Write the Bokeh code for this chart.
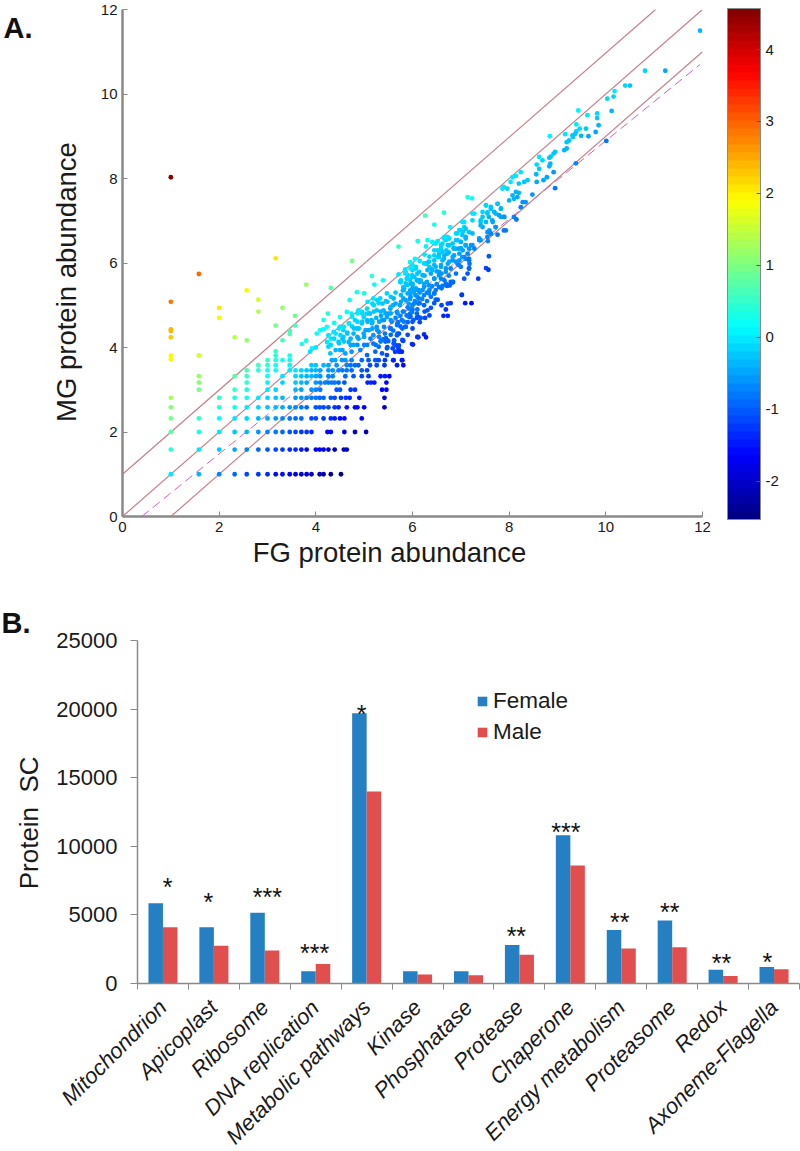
from math import sqrt, pi
from bokeh.plotting import figure
from bokeh.layouts import column
from bokeh.embed import file_html
from bokeh.resources import INLINE
from bokeh.models import (ColumnDataSource, LinearColorMapper, ColorBar, FixedTicker, Range1d)
from bokeh.core.properties import value

# ---------- Panel A data: spectral-count levels (discrete rows) ----------
mg_levels = [1.0, 1.585, 2.0, 2.32, 2.585, 2.81, 3.0, 3.17, 3.32, 3.46, 3.58, 3.70, 3.81]
fg_by_level = [
 [1,1.58,2,2.32,2.57,2.81,3,3.17,3.31,3.46,3.58,3.7,3.81,3.91,4.08,4.16,4.31,4.52],
 [1,1.58,2,2.32,2.57,2.81,3,3.17,3.31,3.46,3.58,3.7,3.81,4.0,4.08,4.16,4.26,4.39,4.58,4.64],
 [1,1.58,2,2.32,2.57,2.81,3,3.17,3.31,3.46,3.58,3.7,3.81,3.91,4.24,4.31,4.59,4.81,5.04],
 [1,1.58,2,2.32,2.57,2.81,3,3.17,3.31,3.46,3.58,3.7,3.91,4.0,4.16,4.31,4.39,4.5,4.59,4.95],
 [1,2,2.32,2.57,2.81,3,3.17,3.31,3.46,3.58,3.7,3.81,4.0,4.08,4.16,4.26,4.39,4.47,4.64,4.81,4.86,5.0,5.42],
 [1,2,2.32,2.57,2.81,3,3.17,3.31,3.58,3.7,3.81,3.91,4.0,4.08,4.16,4.31,4.39,4.52,4.62,4.7,4.9,5.42],
 [1.58,2.32,2.57,3,3.17,3.58,3.7,3.91,4.0,4.09,4.43,4.5,4.72,4.81,5.37,5.46],
 [1.58,2.57,3,3.31,3.58,3.7,3.81,4.0,4.09,4.19,4.26,4.33,4.39,4.47,4.59,5.07,5.14,5.21,5.46],
 [1.58,2.32,2.57,3,3.31,3.58,3.7,3.81,3.91,4.0,4.09,4.26,4.35,4.61,4.78,4.95,5.09,5.34,5.43,5.52],
 [2.57,2.81,3,3.17,3.46,3.58,3.7,3.81,3.91,4.0,4.09,4.26,4.35,4.47,4.55,4.64,4.74,4.95,5.06],
 [2.81,3,3.17,3.46,3.91,4.0,4.16,4.26,4.43,4.64,4.72,4.81,4.88,5.12,5.26,5.42,5.68,5.81],
 [3,3.17,3.31,3.46,4.33,4.4,4.54,4.61,4.74,4.95,5.09,5.23,5.3,5.43,5.61,5.78],
 [1,1.58,3.17,3.46],
]
# ---------- Panel A data: continuous part of the cloud ----------
fg_upper = [1,1.58,1.58,2.57,2,2.81,3.8,4.31,2,2.81,3.31,1,1,1,2.32,2.57,3.17,3.57,3.57,3.46,3.46,3.31,1,3.17,4.75,5.71,6.11,1,3.17,
 3.92,4,3.88,3.71,3.8,4.02,4.09,4.16,4.23,4.16,4.25,4.31,4.38,4.5,4.7,4.85,5,5.16,5.21,5.39,5.71,4.64,4.74,4.88,5.06,5.19,5.33,5.47,5.61,5.81,5.88,5.99,6.09,5.95,5.81,5.74,5.92,6.06,6.12,5.99,5.88,6.09,5.68,5.54,5.4,5.26,5.12,4.99,4.81,4.68,4.57,4.5,4.37,4.26,4.23,4.26,4.3,4.47,4.5,4.57,4.68,4.78,4.85,4.95,5.06,5.16,5.26,5.37,5.47,5.57,5.68,5.78,4.88,4.99,5.09,5.19,5.3,5.43,5.54,4.78,4.92,5.06,5.19,5.3,5.47,5.61,5.71,5.8,5.99,6.11,5.68,5.85,6.02,6.12,4.61,4.74,5.06,5.23,5.37,5.47,5.64,5.74,
 7.02,7.09,7.22,6.69,6.6,6.73,6.79,6.64,6.73,6.48,6.35,6.26,6.17,6.09,6.24,6.28,6.12,6.01,5.81,5.72,5.78,5.79,5.6,6.83,6.77,6.7,6.52,6.38,6.31,6.24,6,5.93,5.86,5.79,5.69,5.62,5.72,5.66,5.59,5.48,5.48,
 5.35,5.4,5.45,5.5,5.55,5.6,5.7,5.75,5.9,6,6.1,6.2,6.3,5.8,5.9,6,5.75,5.65,6.45,6.25,6.15,6,5.9,5.95,6.4,5.2,5.3,5.45,5.55,5.65,5.6,5.5,5.35,5.25,5.15,5.05,4.95,4.75,4.65,4.55,5.75,5.85,6,
 6.11,6.31,6.28,6.45,6.52,6.66,6.76,6.69,6.62,6.59,6.73,6.9,6.97,7.04,7.1,6.93,7,7.1,6.83,6.9,7.24,7.17,7.04,6.97,6.86,6.66,6.55,6.52,6.45,6.62,6.73,6.83,6.93,7.14,7.07,7,6.97,6.59,6.48,6.38,6.55,6.69,6.79,6.45,6.66,6.28,6.35,6.07,6,6.14,5.9,6.04,6.17,5.86,6,6.24,6.1,6.35,6.45,5.9,6.1,6.24,6.38,
 6.3,6.4,6.5,6.6,6.75,6.9,6.25,6.3,6.5,6.6,6.15,5.95,6,6.15,6.3,6.05,5.75,5.8,5.95,6.15,5.85,6.75,6.85,7,7.1,6.7,6.45,6.35,6.25,6.15,6.05,5.95,
 7.14,7.23,7.24,7.03,7.07,7.52,7.62,7.76,7.83,7.72,7.55,7.45,7.58,7.41,7.83,7.89,7.66,7.45,7.72,7.55,7.62,7.38,7.41,7.89,8.1,8.15,7.76,7.56,7.58,7.52,7.57,7.36,7.02,7.17,7.17,7.18,7.14,7.07,6.79,6.84,6.72,6.62,
 6.65,6.26,6.45,6.78,
 8.95,8.92,8.86,8.83,8.62,8.69,8.57,8.62,8.85,8.83,8.92,8.95,8.78,8.71,8.57,8.56,8.14,8.07,8.24,8.38,8.31,8.2,8.48,7.89,7.96,8.03,7.86,8.14,8.2,8.07,8,8.1,8.17,8.28,8.34,8.24,
 11.95,11.23,10.81,10.5,10.4,10.18,10.16,10.03,10.12,9.43,9.62,9.82,9.82,9.85,9.39,9.46,9.59,9.79,10.01,9.49,9.64,9.39,9.31,9.37,9.16,9.32,8.84,9.24,9.19,9.14,9.19,9.38]
mg_upper = [8.03,5.74,3.81,5.35,4.94,5.13,5.49,5.41,4.7,4.85,4.94,5.08,4.43,4.24,4.24,4.17,4.52,4.75,4.52,4.39,4.32,4.17,4.39,6.11,6.05,6.39,6.52,3.72,3.91,
 3.98,4,3.9,4.08,4.16,4.33,4.41,4.43,4.49,4.65,4.8,4.21,4.58,4.72,5.12,5.31,5.28,5.69,5.49,5.59,5.73,4.84,4.8,4.88,4.92,5.16,5.16,5.28,5.16,5.43,5.63,5.71,5.59,5.35,5.16,5,5.04,5.24,5.04,4.84,4.76,4.8,4.84,4.92,4.88,4.88,4.8,4.72,4.65,4.57,4.41,4.49,4.37,4.29,4.13,4.02,3.86,4.13,3.94,4.25,4.13,4.33,4.45,4.57,4.65,4.57,4.49,4.65,4.72,4.61,4.53,4.65,4.21,4.33,4.41,4.29,4.37,4.33,4.45,4.06,3.94,4.06,4.09,4.02,3.98,4.09,3.98,4.16,4.08,4.25,4.29,4.49,4.65,4.72,3.86,3.9,3.82,3.9,3.86,3.82,3.9,3.91,
 5.25,5.05,5.05,4.9,5,5.04,5.05,4.75,4.75,5.13,4.76,4.7,4.7,4.7,4.31,4.24,4.24,4.07,4.16,3.9,3.9,3.7,3.7,5.54,5.47,5.47,5.13,4.94,4.88,5,4.61,4.72,4.49,4.45,4.33,4.17,4.05,4.05,3.98,4.17,4.01,
 4.17,4.2,4.22,4.15,4.3,4.4,4.6,4.5,4.6,4.9,4.9,5.15,5.1,4.85,4.95,5,4.75,4.7,5.05,4.85,4.6,4.45,4.3,4.8,5.45,5,5.05,5.1,5.2,5.3,5,4.8,4.75,4.7,4.65,4.8,4.85,4.5,4.35,4.2,5.55,5.85,5.95,
 6.52,6.54,6.39,6.47,6.52,6.62,6.58,6.54,6.46,6.34,6.42,6.7,6.78,6.74,6.62,6.54,6.5,6.42,6.46,6.34,6.42,6.34,6.3,6.22,6.18,6.18,6.22,6.14,6.06,6.06,5.98,6.06,5.98,6.22,6.14,5.91,6.06,5.91,5.91,5.75,5.71,5.79,5.87,5.63,5.59,5.98,5.91,5.91,5.83,5.79,5.71,5.67,5.59,5.52,5.48,5.44,5.36,5.36,5.28,5.28,5.2,5.24,5.2,
 6,5.85,5.8,5.75,5.7,5.75,5.7,5.55,5.5,5.4,5.55,5.6,5.4,5.3,5.3,5.1,5.55,5.35,5.15,5.05,5.75,6.25,6.35,6.35,6.1,6.3,6.3,6.15,6.2,6.05,6.1,6.02,
 7.56,7.53,7.17,6.97,6.85,7.36,7.28,7.4,7.28,7.17,7.2,7.09,7.09,6.97,7.09,7.09,6.97,6.85,6.85,6.73,6.69,6.58,6.54,6.77,7.09,7.03,6.67,6.52,6.16,5.88,5.84,5.63,5.24,6.06,5.87,5.98,5.75,5.63,5.55,5.55,5.46,5.46,
 7.19,7.12,6.91,6.85,
 8.63,8.59,8.52,8.49,8.51,8.43,8.33,8.23,8.35,8.29,8.15,7.77,8.03,7.96,7.92,8.1,8.06,8.03,8.15,7.96,7.92,7.88,7.62,7.8,7.76,7.92,7.76,7.68,7.66,7.6,7.48,7.52,7.56,7.44,7.44,7.32,
 11.5,10.55,10.55,10.2,10.2,10.07,9.94,9.89,9.6,9.61,9.5,9.54,9.43,9.26,9.28,9.18,9.18,9.1,8.89,9.01,9,9.12,9.02,9.06,9.05,8.98,9,8.9,8.86,8.67,8.71,8.36]
# denser core of the cloud
fg_core = [7.52,7.62,7.76,7.83,7.45,7.55,7.69,7.79,7.41,7.52,7.65,7.72,7.9,7.93,7.59,7.62,7.55,7.38,7.41,7.28,7.24,7.07,7.1,7,6.93,7.17,7.24,7.03,7.1,6.9,7,7.21,7.28,7.1,6.96,6.86,6.76,6.65,6.72,6.59,6.48,6.41,6.52,6.62,6.72,6.83,7.03,7.17,7.17,6.96,6.9,6.76,6.65,6.55,6.45,6.34,6.24,6.45,6.59,6.69,6.55,6.41,6.31,6.45,6.59,6.69,6.83,6.72,6.07,5.96,5.86,6.1,6.21,6,5.9,5.76,6.14,6.24,6.34,5.96,5.83,6.07,6.21,6.34,6.45,5.96,5.76,6.48,6.55,
 5.07,5.17,5.27,5.38,5.48,5.55,5.65,5.76,5.86,5.96,6.03,5.82,5.89,6,6.1,5.76,5.55,5.44,5.34,5.2,5.1,4.96,4.86,4.75,4.86,4.96,5.07,5.17,5.31,5.41,5.55,5.69,5.82,5.93,6.03,6.13,6.13,4.69,4.58,4.48,4.41,4.51,4.65,4.79,4.89,5.03,5.17,5.27,5.41,5.55,5.69,5.82,5.96,5.86,5.72,5.31,5.13,5,4.86,4.72,4.58,4.48,4.38,4.31,4.41,4.55,4.72,4.86,5,5.24,5.34,5.44,5.62,5.79,6.1]
mg_core = [7.37,7.33,7.4,7.29,7.21,7.17,7.21,7.13,7.01,6.97,7.01,6.85,7.09,6.77,6.77,6.7,6.62,6.54,6.89,7.17,7.01,6.97,6.81,6.77,6.7,6.73,6.7,6.66,6.58,6.54,6.5,6.42,6.34,6.42,6.34,6.34,6.42,6.58,6.62,6.42,6.46,6.5,6.3,6.26,6.22,6.14,6.14,6.1,5.87,5.95,6.03,6.03,6.1,6.14,6.18,6.03,5.99,5.95,5.95,5.87,5.79,5.83,5.83,5.63,5.63,5.51,5.55,5.47,5.87,5.87,5.79,5.75,5.71,5.67,5.63,5.59,5.59,5.51,5.47,5.51,5.4,5.4,5.36,5.28,5.28,5.28,5.24,5.36,5.43,
 5.08,5.04,5.12,5.04,5.08,4.96,5.04,5.08,5.12,5.2,5.32,5.36,5.48,5.51,5.59,5.55,4.81,4.81,4.85,4.85,4.81,4.81,4.81,4.73,4.61,4.61,4.61,4.61,4.61,4.65,4.65,4.81,4.85,4.92,5.04,5.16,5.36,4.57,4.49,4.45,4.33,4.29,4.33,4.45,4.45,4.41,4.45,4.41,4.49,4.45,4.57,4.61,4.73,4.49,4.33,4.25,4.21,4.25,4.25,4.21,4.14,4.1,4.21,4.06,3.94,3.94,4.06,4.06,4.06,4.06,4.14,4.14,4.1,4.18,4.25]

# reference lines of panel A (start, end of each line as FG, MG)
line_fg = [[0, 11.03], [0, 12], [1, 12]]
line_mg = [[1, 12], [0, 12], [0, 11]]
fit_fg = [0.4, 11.95]
fit_mg = [0, 10.7]

cbar_low, cbar_high = -2.53, 4.57
cbar_ticks = [-2, -1, 0, 1, 2, 3, 4]

# ---------- Panel B data ----------
categories = ["Mitochondrion","Apicoplast","Ribosome","DNA replication","Metabolic pathways","Kinase","Phosphatase",
              "Protease","Chaperone","Energy metabolism","Proteasome","Redox","Axoneme-Flagella"]
female = [5850,4100,5150,900,19700,900,900,2800,10800,3900,4600,1000,1200]
male   = [4100,2750,2400,1430,14000,650,600,2100,8600,2550,2650,550,1030]
star_text = ["*","*","***","***","*","**","***","**","**","**","*"]
star_x = [0.59,1.39,2.55,3.48,4.40,7.44,8.41,9.47,10.45,11.47,12.37]
star_y = [7290,6200,6560,2480,19900,3720,11300,4740,5470,1820,1890]

FONT = "Liberation Sans"
AXC = "#8a8a8a"
TXT = "#1a1a1a"
NB = "\u00a0"

def jet(n=64):
    out = []
    for i in range(n):
        t = (i + 0.5) / n
        r = min(max(min(4*t-1.5, -4*t+4.5), 0), 1)
        g = min(max(min(4*t-0.5, -4*t+3.5), 0), 1)
        b = min(max(min(4*t+0.5, -4*t+2.5), 0), 1)
        out.append("#%02x%02x%02x" % (int(r*255), int(g*255), int(b*255)))
    return out

# ---------- Panel A ----------
n = min(len(fg_upper), len(mg_upper))
m = min(len(fg_core), len(mg_core))
fg = [x for xs, lv in zip(fg_by_level, mg_levels) for x in xs] + fg_upper[:n] + fg_core[:m]
mg = [lv for xs, lv in zip(fg_by_level, mg_levels) for x in xs] + mg_upper[:n] + mg_core[:m]
z = [(b - a) / sqrt(2) for a, b in zip(fg, mg)]
mapper = LinearColorMapper(palette=jet(), low=cbar_low, high=cbar_high)

pA = figure(output_backend="svg", toolbar_location=None, width=800, height=590,
            x_range=Range1d(0, 12), y_range=Range1d(0, 12), frame_width=580, frame_height=507,
            min_border_left=122, min_border_right=98, min_border_top=9, min_border_bottom=74,
            outline_line_color=None, background_fill_color="white", frame_align=False)
pA.grid.visible = False
for ax in (pA.xaxis[0], pA.yaxis[0]):
    ax.axis_line_color = AXC; ax.axis_line_width = 2.5
    ax.major_tick_line_color = AXC; ax.major_tick_in = 5; ax.major_tick_out = 0
    ax.minor_tick_line_color = None
    ax.major_label_text_font = FONT; ax.major_label_text_font_size = "15px"
    ax.major_label_text_color = TXT
    ax.axis_label_text_font = FONT; ax.axis_label_text_font_style = "normal"
    ax.axis_label_text_font_size = "27.5px"; ax.axis_label_text_color = TXT
    ax.ticker = FixedTicker(ticks=[0, 2, 4, 6, 8, 10, 12])
pA.xaxis.axis_label = "FG protein abundance" + NB * 6
pA.yaxis.axis_label = "MG protein abundance" + NB * 5
pA.xaxis.major_label_standoff = 5
pA.yaxis.major_label_standoff = 5
pA.xaxis.axis_label_standoff = 2
pA.yaxis.axis_label_standoff = 16
for lx, ly in zip(line_fg, line_mg):
    pA.line(lx, ly, line_color="#c8808a", line_width=1.2)
pA.line(fit_fg, fit_mg, line_color="#cc66bb", line_width=1, line_dash="9 5")
pA.scatter(x="fg", y="mg", size=4.8, line_color=None,
           fill_color={"field": "z", "transform": mapper},
           source=ColumnDataSource(dict(fg=fg, mg=mg, z=z)))
cb = ColorBar(color_mapper=mapper, width=33, height=511, location=(25, -3), margin=0, padding=0,
              ticker=FixedTicker(ticks=cbar_ticks), major_label_text_font=FONT,
              major_label_overrides={-2: "-2", -1: "-1"},
              major_label_text_font_size="15px", major_label_text_color=TXT,
              major_tick_line_color="#555555", major_tick_in=4, bar_line_color="#8a8a8a",
              label_standoff=5, scale_alpha=1)
pA.add_layout(cb, "right")

# ---------- Panel B ----------
cx = [i + 0.5 for i in range(len(categories))]
pB = figure(output_backend="svg", toolbar_location=None, width=800, height=561,
            x_range=Range1d(0, 13), y_range=Range1d(0, 25000), frame_width=662, frame_height=343,
            min_border_left=137, min_border_right=1, min_border_top=50, min_border_bottom=168,
            outline_line_color=None, background_fill_color="white", frame_align=False)
pB.grid.visible = False
bw = 0.285
pB.vbar(x=[c - bw/2 for c in cx], top=female, bottom=0, width=bw, fill_color="#2580c3", line_color=None, legend_label="Female")
pB.vbar(x=[c + bw/2 for c in cx], top=male, bottom=0, width=bw, fill_color="#e04e4e", line_color=None, legend_label="Male")
xa, ya = pB.xaxis[0], pB.yaxis[0]
xa.ticker = FixedTicker(ticks=cx, minor_ticks=list(range(len(categories)+1)))
xa.major_label_overrides = {c: s for c, s in zip(cx, categories)}
xa.major_tick_line_color = None; xa.major_tick_in = 0; xa.major_tick_out = 0
xa.minor_tick_line_color = AXC; xa.minor_tick_in = 0; xa.minor_tick_out = 6
xa.axis_line_color = AXC; xa.axis_line_width = 1.5
xa.major_label_orientation = pi/4
xa.major_label_text_font = FONT; xa.major_label_text_font_size = "22px"
xa.major_label_text_font_style = "italic"; xa.major_label_text_color = TXT
xa.major_label_standoff = 14
ya.ticker = FixedTicker(ticks=[0, 5000, 10000, 15000, 20000, 25000])
ya.minor_tick_line_color = None
ya.major_tick_line_color = AXC; ya.major_tick_in = 0; ya.major_tick_out = 7
ya.axis_line_color = AXC; ya.axis_line_width = 1.5
ya.major_label_text_font = FONT; ya.major_label_text_font_size = "22px"; ya.major_label_text_color = TXT
ya.major_label_standoff = 13
ya.axis_label = "Protein" + NB * 2 + "SC" + NB * 3
ya.axis_label_text_font = FONT; ya.axis_label_text_font_style = "normal"
ya.axis_label_text_font_size = "26px"; ya.axis_label_text_color = TXT
ya.axis_label_standoff = 9
pB.text(x=star_x, y=star_y, text=star_text, text_font=value(FONT), text_font_size="25px",
        text_align="center", text_baseline="middle", text_color="#111111", y_offset=4)
leg = pB.legend[0]
leg.location = (339, 238)
leg.background_fill_alpha = 0; leg.border_line_color = None
leg.padding = 0; leg.margin = 4; leg.spacing = 5
leg.glyph_width = 12; leg.glyph_height = 12; leg.label_height = 26
leg.label_standoff = 5
leg.label_text_font = FONT; leg.label_text_font_size = "22.5px"; leg.label_text_color = TXT

# ---------- Panel letters ----------
def panel_letter(text, left, top, height, offset):
    f = figure(output_backend="svg", toolbar_location=None, width=90, height=height,
               x_range=Range1d(0, 1), y_range=Range1d(0, 1), min_border=0,
               outline_line_color=None, background_fill_color=None, border_fill_color=None,
               x_axis_type=None, y_axis_type=None,
               styles={"position": "absolute", "left": f"{left}px", "top": f"{top}px"})
    f.grid.visible = False
    f.text(x=[0], y=[0], text=[text], text_font=value(FONT), text_font_size="29px",
           text_font_style="bold", text_color="#111111", text_baseline="alphabetic",
           x_offset=1, y_offset=offset)
    return f

lA = panel_letter("A.", 2, 0, 70, -43)
lB = panel_letter("B.", 0, 580, 70, -28)

root = column(pA, pB, spacing=0, styles={"position": "absolute", "left": "0px", "top": "0px"})
open("out.html", "w").write(file_html([root, lA, lB], INLINE))
